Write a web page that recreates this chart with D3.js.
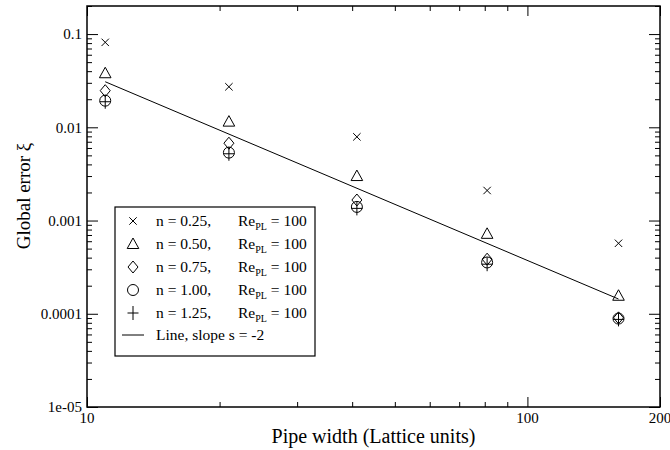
<!DOCTYPE html>
<html>
<head>
<meta charset="utf-8">
<script src="https://d3js.org/d3.v7.min.js"></script>
<style>
  body { margin: 0; background: #fff; }
  text { font-family: "Liberation Serif", "DejaVu Serif", serif; fill: #000; }
</style>
</head>
<body>
<script>
    // pipe widths (lattice units)
    var widths = [11, 21, 41, 81, 161];

    // global error for each power-law index n
    var err025 = [0.0815, 0.0272, 0.0079, 0.0021, 0.00057];
    var err050 = [0.038, 0.0115, 0.0030, 0.00072, 0.000156];
    var err075 = [0.0247, 0.00675, 0.00166, 0.000385, 0.0000904];
    var err100 = [0.0193, 0.00535, 0.00140, 0.000355, 0.0000888];
    var err125 = [0.0188, 0.00520, 0.00135, 0.00034, 0.000087];

    // reference line, slope -2
    var lineX = [11, 161];
    var lineY = [0.0308, 0.000144];

    var seriesNames = ["n = 0.25,", "n = 0.50,", "n = 0.75,", "n = 1.00,", "n = 1.25,"];
    var xTicks = [10, 100, 200];
    var yTicks = [0.1, 0.01, 0.001, 0.0001, 0.00001];
    var yTickLabels = ["0.1", "0.01", "0.001", "0.0001", "1e-05"];

    var W = 670, H = 450;
    var margin = { top: 6, right: 10, bottom: 43, left: 87 };

    var svg = d3.select("body").append("svg")
        .attr("width", W)
        .attr("height", H);

    var x = d3.scaleLog()
        .domain([10, 200])
        .range([margin.left, W - margin.right]);
    var y = d3.scaleLog()
        .domain([1e-5, 0.2])
        .range([H - margin.bottom, margin.top]);

    // minor tick values
    var xMinor = [];
    for (var i = 2; i <= 9; i++) xMinor.push(i * 10);
    var yMinor = [];
    for (var k = -5; k <= -1; k++) {
        for (var m = 2; m <= 9; m++) {
            var v = m * Math.pow(10, k);
            if (v <= 0.2) yMinor.push(v);
        }
    }

    function styleAxis(g) {
        g.select(".domain").remove();
        g.selectAll("line").attr("stroke", "#000").attr("stroke-width", 1);
    }

    // major ticks, inward on all four sides
    svg.append("g").attr("transform", "translate(0," + y.range()[0] + ")")
        .call(d3.axisBottom(x).tickValues(xTicks).tickSize(-10).tickFormat(""))
        .call(styleAxis);
    svg.append("g").attr("transform", "translate(0," + y.range()[0] + ")")
        .call(d3.axisBottom(x).tickValues(xMinor).tickSize(-5).tickFormat(""))
        .call(styleAxis);
    svg.append("g").attr("transform", "translate(0," + y.range()[1] + ")")
        .call(d3.axisTop(x).tickValues(xTicks).tickSize(-10).tickFormat(""))
        .call(styleAxis);
    svg.append("g").attr("transform", "translate(0," + y.range()[1] + ")")
        .call(d3.axisTop(x).tickValues(xMinor).tickSize(-5).tickFormat(""))
        .call(styleAxis);
    svg.append("g").attr("transform", "translate(" + x.range()[0] + ",0)")
        .call(d3.axisLeft(y).tickValues(yTicks).tickSize(-11).tickFormat(""))
        .call(styleAxis);
    svg.append("g").attr("transform", "translate(" + x.range()[0] + ",0)")
        .call(d3.axisLeft(y).tickValues(yMinor).tickSize(-5).tickFormat(""))
        .call(styleAxis);
    svg.append("g").attr("transform", "translate(" + x.range()[1] + ",0)")
        .call(d3.axisRight(y).tickValues(yTicks).tickSize(-11).tickFormat(""))
        .call(styleAxis);
    svg.append("g").attr("transform", "translate(" + x.range()[1] + ",0)")
        .call(d3.axisRight(y).tickValues(yMinor).tickSize(-5).tickFormat(""))
        .call(styleAxis);

    // frame
    svg.append("rect")
        .attr("x", x.range()[0])
        .attr("y", y.range()[1])
        .attr("width", x.range()[1] - x.range()[0])
        .attr("height", y.range()[0] - y.range()[1])
        .attr("fill", "none")
        .attr("stroke", "#000")
        .attr("stroke-width", 1.5);

    // tick labels
    svg.selectAll(".xlab")
        .data(xTicks)
        .enter().append("text")
        .attr("x", function (d) { return x(d); })
        .attr("y", 423)
        .attr("text-anchor", "middle")
        .style("font-size", "15px")
        .text(function (d) { return d; });

    svg.selectAll(".ylab")
        .data(yTicks)
        .enter().append("text")
        .attr("x", 82)
        .attr("y", function (d) { return y(d); })
        .attr("dy", "0.35em")
        .attr("text-anchor", "end")
        .style("font-size", "15px")
        .text(function (d, i) { return yTickLabels[i]; });

    // axis titles
    svg.append("text")
        .attr("x", (x.range()[0] + x.range()[1]) / 2)
        .attr("y", 443)
        .attr("text-anchor", "middle")
        .style("font-size", "20px")
        .text("Pipe width (Lattice units)");

    svg.append("text")
        .attr("transform", "translate(30,196) rotate(-90)")
        .attr("text-anchor", "middle")
        .style("font-size", "19px")
        .text("Global error \u03be");

    // marker shapes
    function markerPath(type, cx, cy) {
        var p = d3.path();
        if (type === "x") {
            var a = 3.7;
            p.moveTo(cx - a, cy - a); p.lineTo(cx + a, cy + a);
            p.moveTo(cx - a, cy + a); p.lineTo(cx + a, cy - a);
        } else if (type === "tri") {
            p.moveTo(cx, cy - 6); p.lineTo(cx + 5.8, cy + 4.5); p.lineTo(cx - 5.8, cy + 4.5); p.closePath();
        } else if (type === "dia") {
            p.moveTo(cx, cy - 6); p.lineTo(cx + 5, cy); p.lineTo(cx, cy + 6); p.lineTo(cx - 5, cy); p.closePath();
        } else if (type === "circ") {
            p.moveTo(cx + 5.5, cy); p.arc(cx, cy, 5.5, 0, 2 * Math.PI);
        } else if (type === "plus") {
            p.moveTo(cx - 5.5, cy); p.lineTo(cx + 5.5, cy);
            p.moveTo(cx, cy - 7); p.lineTo(cx, cy + 7);
        }
        return p.toString();
    }

    var series = [
        { values: err025, type: "x" },
        { values: err050, type: "tri" },
        { values: err075, type: "dia" },
        { values: err100, type: "circ" },
        { values: err125, type: "plus" }
    ];

    // slope line
    svg.append("path")
        .datum(d3.zip(lineX, lineY))
        .attr("fill", "none")
        .attr("stroke", "#000")
        .attr("stroke-width", 1)
        .attr("d", d3.line()
            .x(function (d) { return x(d[0]); })
            .y(function (d) { return y(d[1]); }));

    // points
    series.forEach(function (s) {
        svg.append("g").selectAll("path")
            .data(s.values)
            .enter().append("path")
            .attr("d", function (d, i) { return markerPath(s.type, x(widths[i]), y(d)); })
            .attr("fill", "none")
            .attr("stroke", "#000")
            .attr("stroke-width", 1);
    });

    // legend
    var legend = svg.append("g");
    legend.append("rect")
        .attr("x", 115).attr("y", 207)
        .attr("width", 200).attr("height", 149)
        .attr("fill", "#fff")
        .attr("stroke", "#000")
        .attr("stroke-width", 1.2);

    series.forEach(function (s, i) {
        var ry = 221 + i * 23;
        legend.append("path")
            .attr("d", markerPath(s.type, 133, ry))
            .attr("fill", "none")
            .attr("stroke", "#000");
        legend.append("text")
            .attr("x", 156).attr("y", ry + 5)
            .style("font-size", "15.5px")
            .text(seriesNames[i]);
        var t = legend.append("text")
            .attr("x", 238).attr("y", ry + 5)
            .style("font-size", "15.5px");
        t.append("tspan").text("Re");
        t.append("tspan").attr("dy", 4).style("font-size", "10px").text("PL");
        t.append("tspan").attr("dy", -4).text(" = 100");
    });

    var ly = 221 + 5 * 23 - 1;
    legend.append("line")
        .attr("x1", 122).attr("x2", 144)
        .attr("y1", ly).attr("y2", ly)
        .attr("stroke", "#000");
    legend.append("text")
        .attr("x", 156).attr("y", ly + 5)
        .style("font-size", "15.5px")
        .text("Line, slope s = -2");
</script>
</body>
</html>
